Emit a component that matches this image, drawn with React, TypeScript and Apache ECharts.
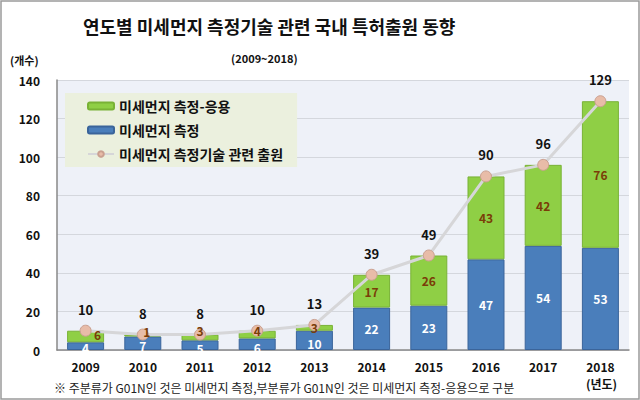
import React, { useEffect, useRef } from "react";
import * as echarts from "echarts";

const years = ["2009", "2010", "2011", "2012", "2013", "2014", "2015", "2016", "2017", "2018"];
const measure = [4, 7, 5, 6, 10, 22, 23, 47, 54, 53];
const applied = [6, 1, 3, 4, 3, 17, 26, 43, 42, 76];
const totals = [10, 8, 8, 10, 13, 39, 49, 90, 96, 129];

// label nudges for the small stacked segments (pixels)
const measureLabelOffsets: [number, number][] = [[0, 1], [0, 2], [0, 3], [0, 3], [0, 3]];
const appliedLabelOffsets: [number, number][] = [[12, -2], [4, -4], [0, -7], [0, -4], [0, 0]];

const FONT = "'Noto Sans CJK KR', 'Noto Sans', sans-serif";

export default function App() {
  const ref = useRef<HTMLDivElement>(null);
  useEffect(() => {
    const chart = echarts.init(ref.current!, undefined, { renderer: "svg" });
    const withOffsets = (arr: number[], offs: [number, number][]) =>
      arr.map((v, i) => (offs[i] ? { value: v, label: { offset: offs[i] } } : v));
    const labelStyle = (color: string) => ({
      show: true,
      position: "inside",
      color,
      fontSize: 12,
      fontWeight: "bold",
      fontFamily: FONT,
    });
    chart.setOption({
      animation: false,
      backgroundColor: "#ffffff",
      textStyle: { fontFamily: FONT },
      title: [
        {
          text: "연도별 미세먼지 측정기술 관련 국내 특허출원 동향",
          left: 78,
          top: 12,
          textStyle: { fontSize: 18, fontWeight: "bold", color: "#111", fontFamily: FONT },
        },
        {
          text: "(2009~2018)",
          left: 226,
          top: 47,
          textStyle: { fontSize: 11, fontWeight: "bold", color: "#111", fontFamily: FONT },
        },
      ],
      graphic: [
        {
          type: "rect",
          shape: { x: 1, y: 1, width: 638, height: 398 },
          style: { fill: "none", stroke: "#9a9a9a", lineWidth: 1.5 },
          silent: true,
        },
        {
          type: "text",
          left: 10,
          top: 54,
          style: { text: "(개수)", fontSize: 11, fontWeight: "bold", fill: "#111", fontFamily: FONT },
        },
        {
          type: "text",
          left: 54,
          top: 381,
          style: {
            text: "※ 주분류가 G01N인 것은 미세먼지 측정,부분류가 G01N인 것은 미세먼지 측정-응용으로 구분",
            fontSize: 12,
            fill: "#222",
            fontFamily: FONT,
          },
        },
        {
          type: "text",
          left: 586,
          top: 377,
          style: { text: "(년도)", fontSize: 12, fontWeight: "bold", fill: "#111", fontFamily: FONT },
        },
      ],
      legend: {
        orient: "vertical",
        left: 65,
        top: 93,
        width: 240,
        padding: [6, 14, 6, 22],
        itemGap: 10,
        itemWidth: 26,
        itemHeight: 7,
        backgroundColor: "#ebf0de",
        textStyle: { fontSize: 14, fontWeight: "bold", color: "#111", fontFamily: FONT },
        data: [
          { name: "미세먼지 측정-응용" },
          { name: "미세먼지 측정" },
          { name: "미세먼지 측정기술 관련 출원" },
        ],
      },
      grid: {
        left: 57,
        right: 11,
        top: 80,
        bottom: 50,
        show: true,
        backgroundColor: "#eef1f8",
        borderWidth: 0,
      },
      xAxis: {
        type: "category",
        data: years,
        axisLine: { lineStyle: { color: "#888", width: 1.5 } },
        axisTick: { show: false },
        axisLabel: { fontSize: 12, fontWeight: "bold", color: "#111", margin: 10, fontFamily: FONT },
      },
      yAxis: {
        type: "value",
        min: 0,
        max: 140,
        interval: 20,
        axisLine: { show: true, lineStyle: { color: "#888", width: 1.5 } },
        axisTick: { show: false },
        axisLabel: { fontSize: 12, fontWeight: "bold", color: "#111", margin: 17, fontFamily: FONT },
        splitLine: { lineStyle: { color: "#d4d7dd", width: 1 } },
      },
      series: [
        {
          name: "미세먼지 측정",
          type: "bar",
          stack: "total",
          data: measure,
          barWidth: 37,
          itemStyle: { color: "#4a7ebb", borderColor: "#3a649a", borderWidth: 1 },
        },
        {
          name: "미세먼지 측정-응용",
          type: "bar",
          stack: "total",
          data: applied,
          barWidth: 37,
          itemStyle: { color: "#8fcf45", borderColor: "#79b236", borderWidth: 1 },
        },
        {
          name: "미세먼지 측정기술 관련 출원",
          type: "line",
          data: totals,
          symbol: "circle",
          symbolSize: 11,
          z: 5,
          lineStyle: { color: "#d6d6d8", width: 3 },
          itemStyle: { color: "#e8bca8", borderColor: "#caa090", borderWidth: 1 },
          label: {
            show: true,
            position: "top",
            distance: 9,
            color: "#111",
            fontSize: 13,
            fontWeight: "bold",
            fontFamily: FONT,
          },
        },
        // label-only overlays so segment values sit above the line markers
        {
          name: "measure-labels",
          type: "bar",
          stack: "labels",
          barGap: "-100%",
          data: withOffsets(measure, measureLabelOffsets),
          barWidth: 37,
          z: 10,
          silent: true,
          itemStyle: { color: "rgba(0,0,0,0)" },
          label: labelStyle("#ffffff"),
        },
        {
          name: "applied-labels",
          type: "bar",
          stack: "labels",
          barGap: "-100%",
          data: withOffsets(applied, appliedLabelOffsets),
          barWidth: 37,
          z: 10,
          silent: true,
          itemStyle: { color: "rgba(0,0,0,0)" },
          label: labelStyle("#7a3d08"),
        },
      ],
    });
    return () => chart.dispose();
  }, []);
  return (
    <div
      ref={ref}
      style={{ position: "fixed", left: 0, top: 0, width: 640, height: 400 }}
    />
  );
}
